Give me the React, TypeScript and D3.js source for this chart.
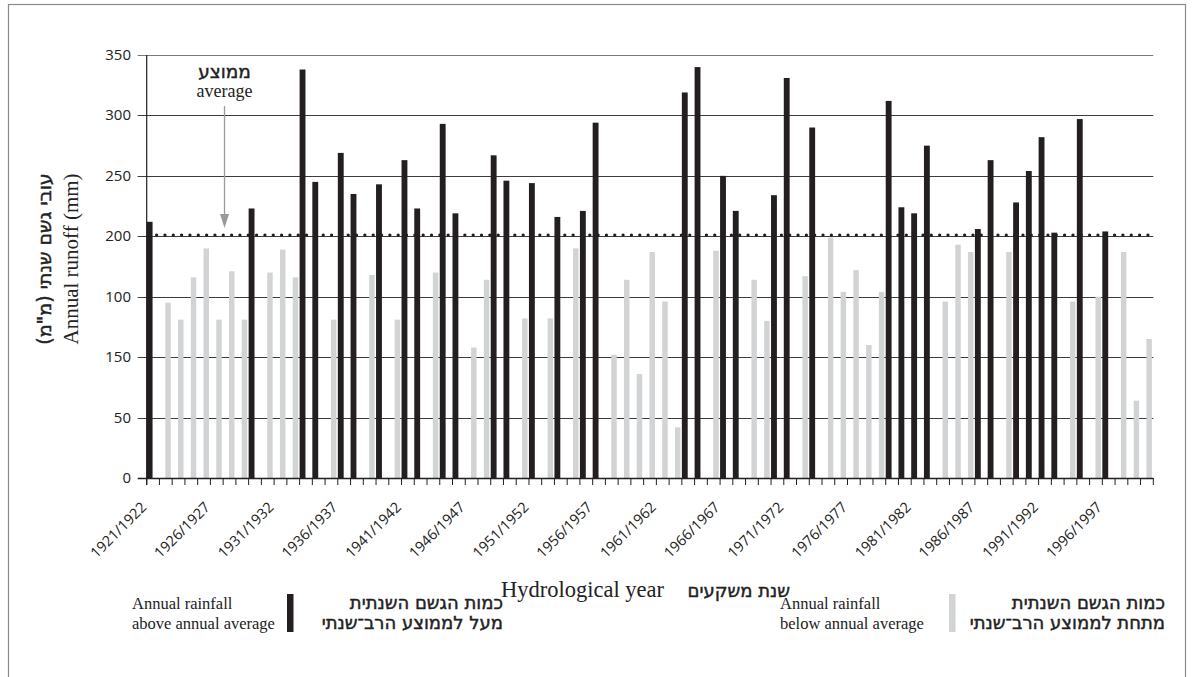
import { useEffect, useRef } from 'react'
import * as d3 from 'd3'

// hydrological years, one bar each
const years = [
  '1921/1922', '1922/1923', '1923/1924', '1924/1925', '1925/1926', '1926/1927', '1927/1928', '1928/1929',
  '1929/1930', '1930/1931', '1931/1932', '1932/1933', '1933/1934', '1934/1935', '1935/1936', '1936/1937',
  '1937/1938', '1938/1939', '1939/1940', '1940/1941', '1941/1942', '1942/1943', '1943/1944', '1944/1945',
  '1945/1946', '1946/1947', '1947/1948', '1948/1949', '1949/1950', '1950/1951', '1951/1952', '1952/1953',
  '1953/1954', '1954/1955', '1955/1956', '1956/1957', '1957/1958', '1958/1959', '1959/1960', '1960/1961',
  '1961/1962', '1962/1963', '1963/1964', '1964/1965', '1965/1966', '1966/1967', '1967/1968', '1968/1969',
  '1969/1970', '1970/1971', '1971/1972', '1972/1973', '1973/1974', '1974/1975', '1975/1976', '1976/1977',
  '1977/1978', '1978/1979', '1979/1980', '1980/1981', '1981/1982', '1982/1983', '1983/1984', '1984/1985',
  '1985/1986', '1986/1987', '1987/1988', '1988/1989', '1989/1990', '1990/1991', '1991/1992', '1992/1993',
  '1993/1994', '1994/1995', '1995/1996', '1996/1997', '1997/1998', '1998/1999', '1999/2000',
]

// annual runoff (mm)
const runoff = [
  212, 145, 131, 166, 190, 131, 171, 131, 223, 170,
  189, 166, 338, 245, 131, 269, 235, 168, 243, 131,
  263, 223, 170, 293, 219, 108, 164, 267, 246, 132,
  244, 132, 216, 190, 221, 294, 102, 164, 86, 187,
  146, 42, 319, 340, 188, 250, 221, 164, 130, 234,
  331, 167, 290, 199, 154, 172, 110, 154, 312, 224,
  219, 275, 146, 193, 187, 206, 263, 187, 228, 254,
  282, 203, 146, 297, 150, 204, 187, 64, 115,
]

const average = 201

const xLabels = [
  '1921/1922', '1926/1927', '1931/1932', '1936/1937', '1941/1942', '1946/1947', '1951/1952', '1956/1957',
  '1961/1962', '1966/1967', '1971/1972', '1976/1977', '1981/1982', '1986/1987', '1991/1992', '1996/1997',
]

const yTicks = [0, 50, 100, 150, 200, 250, 300, 350]
const yTickLabels = ['0', '50', '150', '100', '200', '250', '300', '350']

const legendItems = [
  { en: ['Annual rainfall', 'above annual average'], he: ['כמות הגשם השנתית', 'מעל לממוצע הרב־שנתי'], key: 'above' },
  { en: ['Annual rainfall', 'below annual average'], he: ['כמות הגשם השנתית', 'מתחת לממוצע הרב־שנתי'], key: 'below' },
]

const BLACK = '#231f20'
const GREY = '#d1d3d4'
const INK = '#222'
const SANS = '"Open Sans", "Noto Sans", sans-serif'
const SERIF = '"Liberation Serif", "DejaVu Serif", serif'
const HEB = '"DejaVu Sans", "Liberation Sans", sans-serif'

export default function App() {
  const ref = useRef<SVGSVGElement>(null)

  useEffect(() => {
    const svg = d3.select(ref.current)
    svg.selectAll('*').remove()

    const left = 146.7
    const right = 1153.3
    const top = 55
    const bottom = 478

    const x0 = d3.scaleBand().domain(years).range([left, right]).padding(0)
    const x1 = d3.scaleBand().domain(['above', 'below']).range([0, x0.bandwidth() * 0.92]).padding(0)
    const y = d3.scaleLinear().domain([0, 350]).range([bottom, top])
    const color = d3.scaleOrdinal<string>().domain(['above', 'below']).range([BLACK, GREY])

    // hebrew text: regular face thickened a little with a stroke
    const heb = (sel: any, size: number) =>
      sel.attr('font-family', HEB).attr('font-size', size).attr('fill', INK)
        .attr('stroke', INK).attr('stroke-width', 0.45)

    // frame
    svg.append('rect')
      .attr('x', 8.5).attr('y', 4.5).attr('width', 1177).attr('height', 700)
      .attr('fill', 'none').attr('stroke', '#8a8a8a').attr('stroke-width', 1.2)

    // grid
    svg.append('g').selectAll('line').data(yTicks.filter((d) => d > 0)).join('line')
      .attr('x1', left - 9).attr('x2', right)
      .attr('y1', (d) => Math.round(y(d)) + 0.5).attr('y2', (d) => Math.round(y(d)) + 0.5)
      .attr('stroke', (d) => (d === 350 ? '#7a7a7a' : '#3c3c3c')).attr('stroke-width', 1)

    svg.append('g').selectAll('text').data(yTicks).join('text')
      .attr('x', 131).attr('y', (d) => y(d) + 5)
      .attr('text-anchor', 'end').attr('font-family', SANS).attr('font-size', 15).attr('fill', INK)
      .text((d, i) => yTickLabels[i])

    // bars
    const rows = years.map((yr, i) => ({ yr, v: runoff[i], key: runoff[i] > average ? 'above' : 'below' }))
    svg.append('g').selectAll('rect').data(rows).join('rect')
      .attr('x', (d) => (x0(d.yr) as number) + (x1(d.key) as number))
      .attr('y', (d) => y(d.v))
      .attr('width', (d) => (d.key === 'above' ? x1.bandwidth() : x1.bandwidth() - 0.4))
      .attr('height', (d) => bottom - y(d.v))
      .attr('fill', (d) => color(d.key))

    // axes
    svg.append('line').attr('x1', left).attr('x2', left).attr('y1', top).attr('y2', bottom + 7)
      .attr('stroke', BLACK).attr('stroke-width', 1.2)
    svg.append('line').attr('x1', left - 9).attr('x2', right).attr('y1', bottom + 0.5).attr('y2', bottom + 0.5)
      .attr('stroke', BLACK).attr('stroke-width', 1.3)
    svg.append('g').selectAll('line').data([...years.map((d) => x0(d) as number), right]).join('line')
      .attr('x1', (d) => d).attr('x2', (d) => d).attr('y1', bottom).attr('y2', bottom + 7)
      .attr('stroke', BLACK).attr('stroke-width', 1)

    svg.append('g').selectAll('text').data(xLabels).join('text')
      .attr('transform', (d) => `translate(${(x0(d) as number) + x0.bandwidth() / 2 - 13},${bottom + 23}) rotate(-45)`)
      .attr('text-anchor', 'end').attr('dy', '0.7em')
      .attr('font-family', SANS).attr('font-size', 14.5).attr('fill', INK)
      .text((d) => d)

    // average line
    svg.append('line')
      .attr('x1', left + 1.6).attr('x2', right).attr('y1', y(average)).attr('y2', y(average))
      .attr('stroke', BLACK).attr('stroke-width', 3.3).attr('stroke-linecap', 'round')
      .attr('stroke-dasharray', '0 8.33')

    // average annotation
    const ax = 224.5
    heb(svg.append('text').attr('x', ax).attr('y', 78).attr('text-anchor', 'middle'), 18.5).text('ממוצע')
    svg.append('text').attr('x', ax).attr('y', 97).attr('text-anchor', 'middle')
      .attr('font-family', SERIF).attr('font-size', 18).attr('fill', INK)
      .text('average')
    svg.append('line').attr('x1', ax).attr('x2', ax).attr('y1', 106).attr('y2', 218)
      .attr('stroke', '#9a9a9a').attr('stroke-width', 1.3)
    svg.append('path')
      .attr('d', d3.line()([[ax - 4.5, 214], [ax + 4.5, 214], [ax, 228]]) + 'Z')
      .attr('fill', '#9a9a9a')

    // y title
    heb(svg.append('text').attr('transform', 'translate(51,259) rotate(-90)').attr('text-anchor', 'middle'), 19)
      .text('עובי גשם שנתי (מ"מ)')
    svg.append('text').attr('transform', 'translate(78,259) rotate(-90)').attr('text-anchor', 'middle')
      .attr('font-family', SERIF).attr('font-size', 21).attr('fill', INK)
      .text('Annual runoff (mm)')

    // x title
    svg.append('text').attr('x', 664).attr('y', 597).attr('text-anchor', 'end')
      .attr('font-family', SERIF).attr('font-size', 22.5).attr('fill', INK)
      .text('Hydrological year')
    heb(svg.append('text').attr('x', 790).attr('y', 597).attr('text-anchor', 'end'), 18).text('שנת משקעים')

    // legend
    const slots = [
      { ex: 132, sx: 287, hx: 503 },
      { ex: 780, sx: 949, hx: 1165 },
    ]
    legendItems.forEach((l, k) => {
      const s = slots[k]
      const g = svg.append('g')
      l.en.forEach((t, i) => {
        g.append('text').attr('x', s.ex).attr('y', 609 + i * 20)
          .attr('font-family', SERIF).attr('font-size', 16.5).attr('fill', INK).text(t)
      })
      g.append('rect').attr('x', s.sx).attr('y', 594).attr('width', 6.5).attr('height', 38).attr('fill', color(l.key))
      l.he.forEach((t, i) => {
        heb(g.append('text').attr('x', s.hx).attr('y', 609 + i * 20).attr('text-anchor', 'end'), 18).text(t)
      })
    })
  }, [])

  return (
    <svg
      ref={ref}
      width={1192}
      height={677}
      style={{ position: 'absolute', left: 0, top: 0, background: '#fff' }}
    />
  )
}
